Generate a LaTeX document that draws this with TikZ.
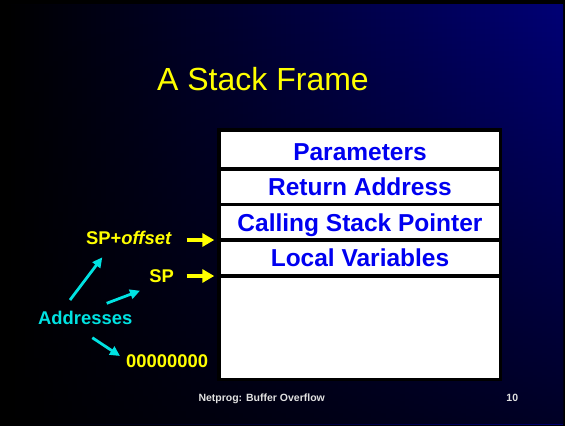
\documentclass[tikz,border=0pt]{standalone}
\usepackage{fontspec}
\setmainfont{Liberation Sans}
\usetikzlibrary{arrows.meta,fadings}

\definecolor{slidenavy}{RGB}{0,0,118}
\definecolor{slidemid}{RGB}{0,0,88}
\definecolor{ttlyellow}{RGB}{255,255,0}
\definecolor{rowblue}{RGB}{0,0,240}
\definecolor{addrcyan}{RGB}{0,226,226}
\definecolor{footgray}{RGB}{225,225,225}

% darkening toward the bottom of the slide
\tikzfading[name=bgfade, top color=transparent!100, bottom color=transparent!32]

\tikzset{
  rowbox/.style={fill=white, inner sep=0pt, minimum width=278pt, text=rowblue,
    font=\fontsize{24.5}{29}\selectfont\bfseries, text height=17.4pt, text depth=0pt},
  lbl/.style={inner sep=0pt, text=ttlyellow, font=\fontsize{18.4}{22}\selectfont\bfseries},
  foot/.style={inner sep=0pt, text=footgray, font=\fontsize{10.5}{12}\selectfont\bfseries},
  ptrarrow/.style={draw=ttlyellow, line width=3.7pt, -{Triangle[length=12pt,width=13pt]}},
  addrarrow/.style={draw=addrcyan, line width=2.8pt, -{Triangle[length=10pt,width=9.5pt]}},
}

\begin{document}
\begin{tikzpicture}[x=1pt,y=-1pt]
  \useasboundingbox (0,0) rectangle (565,426);
  \fill[black] (0,0) rectangle (565,426);
  % slide background: black on the left to navy on the right, darker at the bottom
  \shade[left color=black, middle color=slidemid, right color=slidenavy] (3,4) rectangle (563,424);
  \fill[black, path fading=bgfade] (3,4) rectangle (563,424);

  % title
  \node[inner sep=0pt, text=ttlyellow, font=\fontsize{32}{38}\selectfont, anchor=base]
    (title) at (263,90) {A Stack Frame};

  % stack frame: black frame with white slots
  \fill[black] (217,128) rectangle (502,381);
  \node[rowbox, minimum height=35pt, text height=21pt] (params) at (360,149.5) {Parameters};
  \node[rowbox, minimum height=31.7pt] (retaddr) at (360,186.85) {Return Address};
  \node[rowbox, minimum height=32pt] (callsp) at (360,222.3) {Calling Stack Pointer};
  \node[rowbox, minimum height=32pt] (locals) at (360,258) {Local Variables};
  \node[rowbox, minimum height=99.7pt] (freearea) at (360,328.15) {};

  % address labels
  \node[lbl, anchor=base east] (spoff) at (172,244) {SP+\textit{offset}};
  \node[lbl, anchor=base east] (sp) at (174,282.7) {SP};
  \node[lbl, anchor=base east] (zero) at (208.3,367.3) {00000000};
  \node[lbl, text=addrcyan, anchor=base west] (addr) at (38,324) {Addresses};

  % pointer arrows into the frame
  \coordinate (tailA) at (186.7,240);
  \coordinate (tipA) at (214.3,240);
  \coordinate (tailB) at (186.7,276);
  \coordinate (tipB) at (214.3,276);
  \draw[ptrarrow] (tailA) -- (tipA);
  \draw[ptrarrow] (tailB) -- (tipB);

  % arrows from "Addresses" to the address values
  \coordinate (fromA) at (70,300);
  \coordinate (toA) at (102.3,257.3);
  \coordinate (fromB) at (106.7,303.3);
  \coordinate (toB) at (140,290.7);
  \coordinate (fromC) at (92.3,337.7);
  \coordinate (toC) at (120,356);
  \draw[addrarrow] (fromA) -- (toA);
  \draw[addrarrow] (fromB) -- (toB);
  \draw[addrarrow] (fromC) -- (toC);

  % footer
  \node[foot, anchor=base west] (footer) at (198.3,401.7) {Netprog: Buffer Overflow};
  \node[foot, anchor=base east] (pageno) at (518.3,401.7) {10};
\end{tikzpicture}
\end{document}
